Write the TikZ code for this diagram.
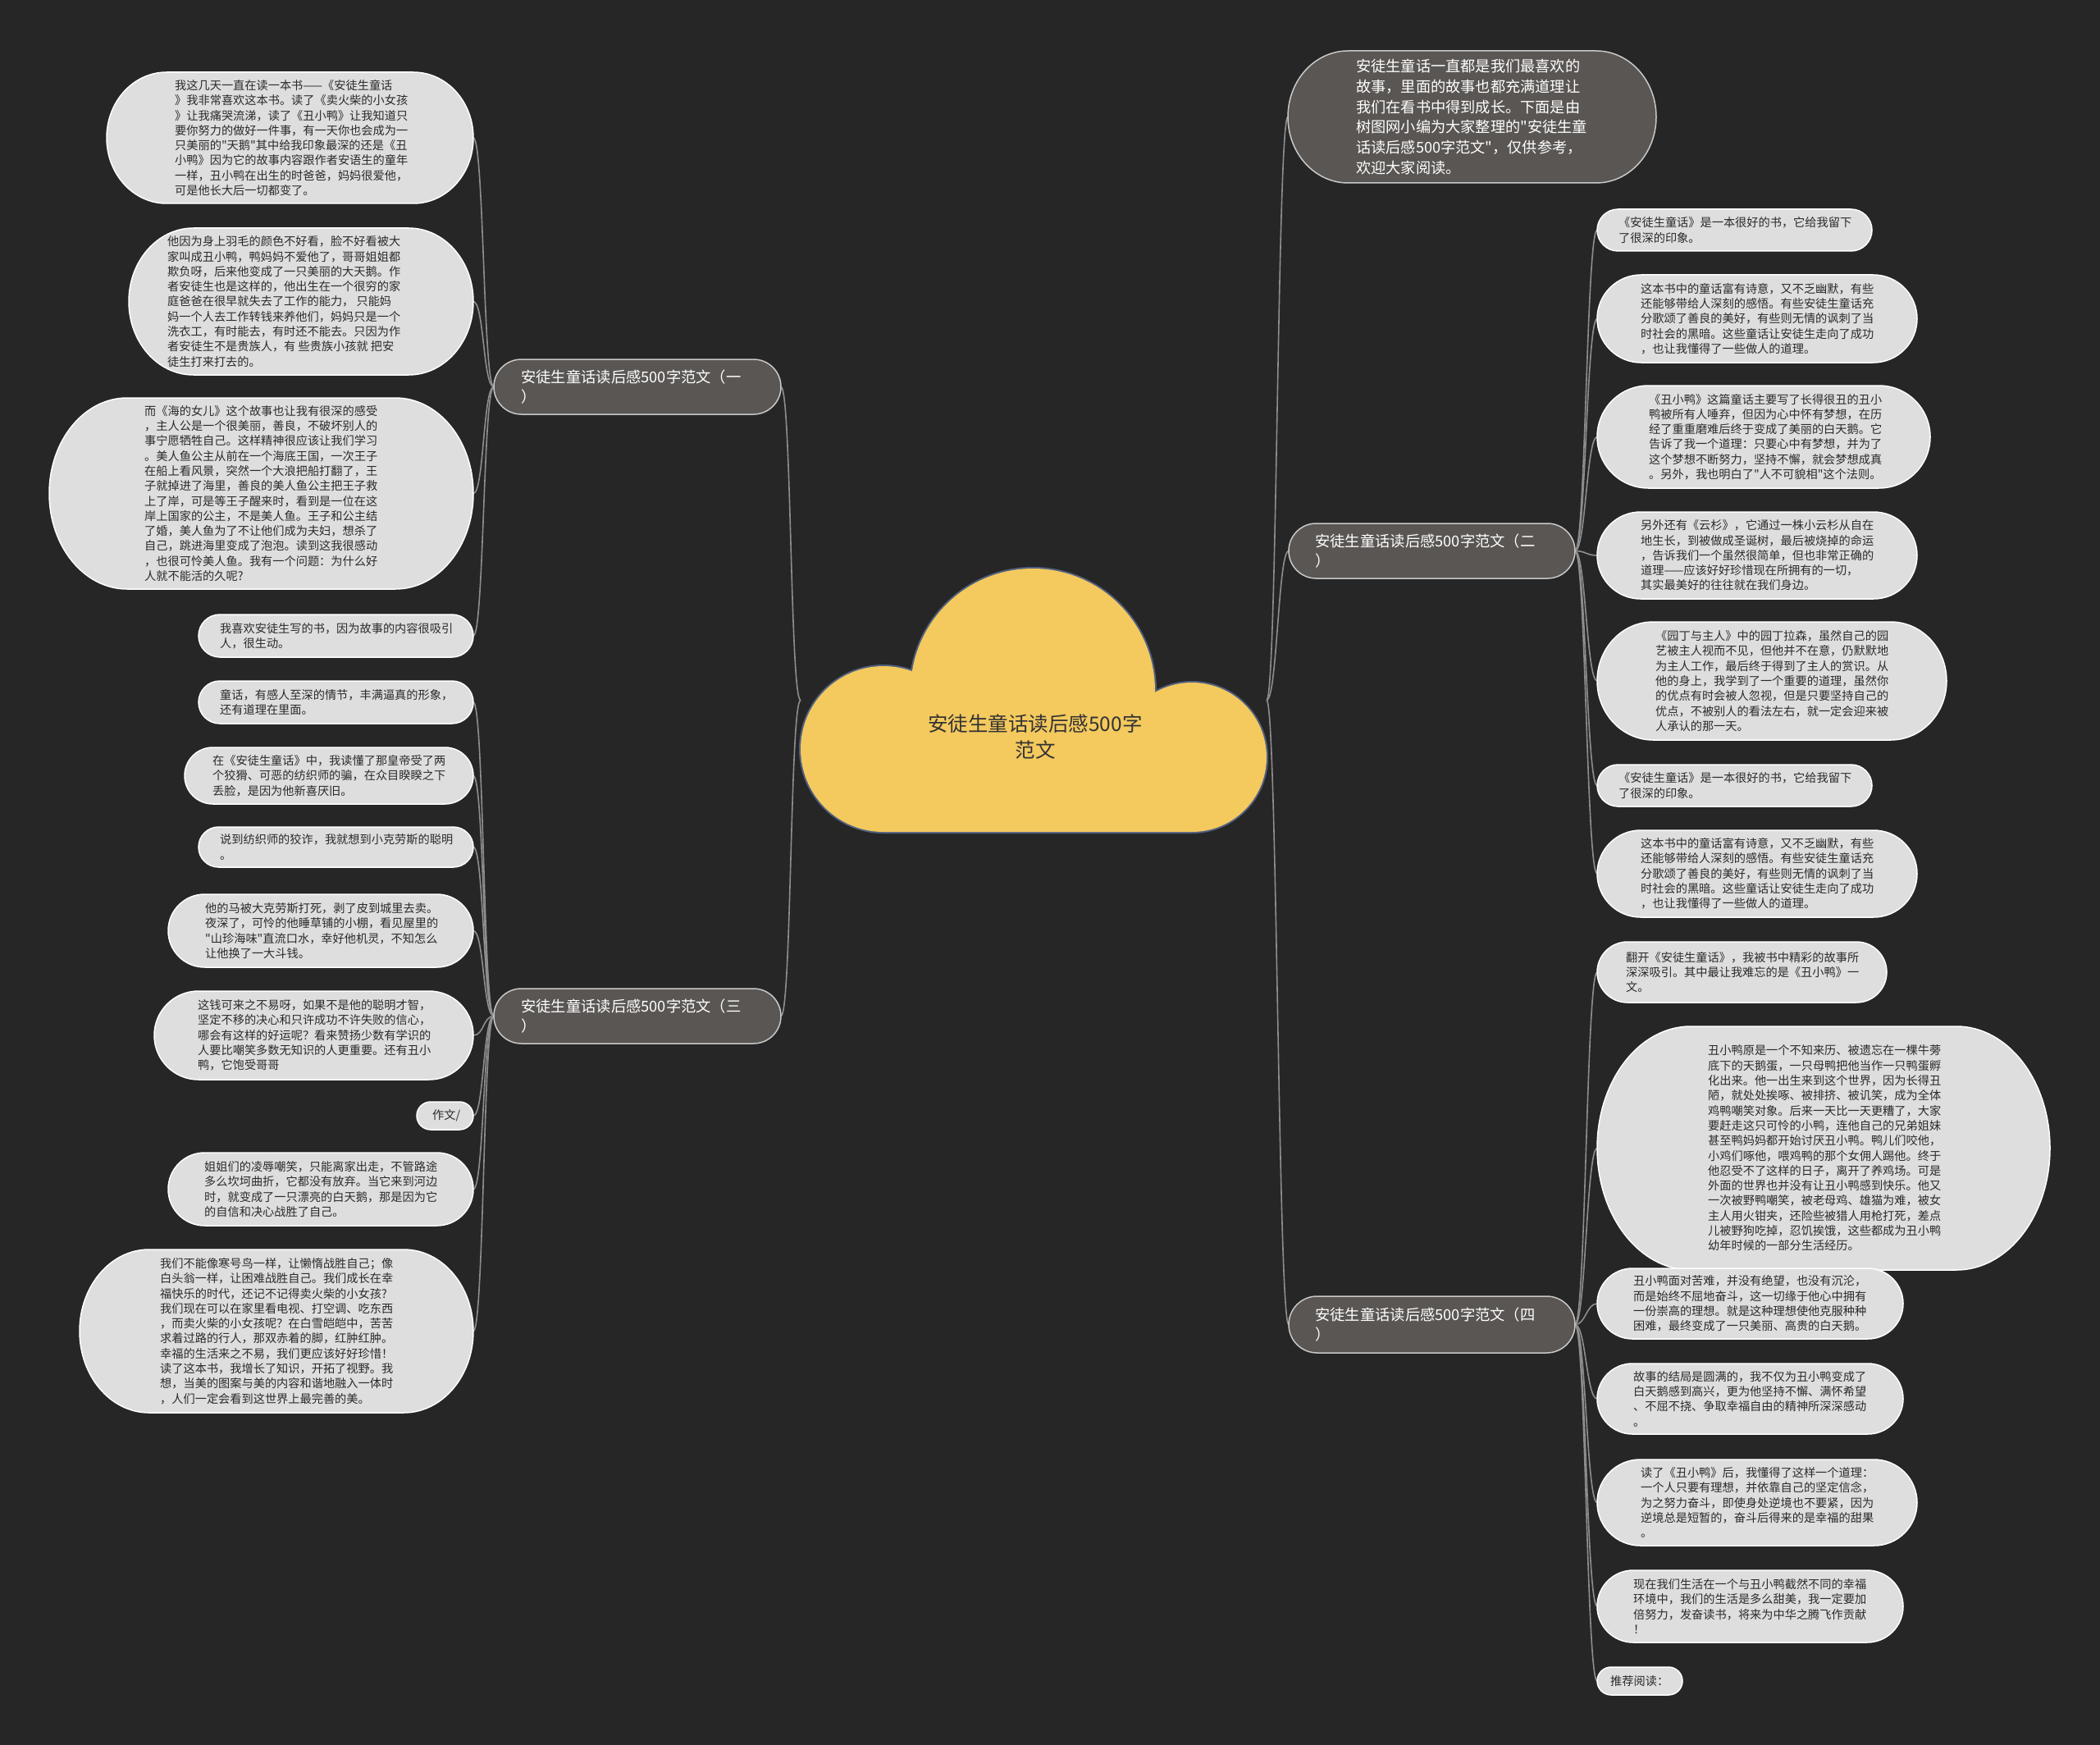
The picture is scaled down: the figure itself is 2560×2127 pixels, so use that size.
\documentclass[tikz,border=0pt]{standalone}
\usepackage{fontspec}
\newfontfamily\cjkf{Noto Sans CJK SC}
\definecolor{bgc}{HTML}{262626}
\definecolor{leaffill}{HTML}{DEDEDE}
\definecolor{leaftextc}{HTML}{2A2A2A}
\definecolor{brfill}{HTML}{5A5653}
\definecolor{brdraw}{HTML}{C8C8C8}
\definecolor{connc}{HTML}{8E8E8E}
\definecolor{cloudfill}{HTML}{F4C95E}
\definecolor{cloudline}{HTML}{50607F}
\definecolor{roottextc}{HTML}{333333}
\pgfdeclarelayer{bglayer}
\pgfsetlayers{bglayer,main}
\tikzset{
  boxnode/.style={rectangle,draw=none,inner sep=0pt,outer sep=0pt},
  leafline/.style={fill=leaffill,draw=white,line width=1.5pt},
  brline/.style={fill=brfill,draw=brdraw,line width=1.5pt},
  leaftext/.style={inner sep=0pt,align=left,text=leaftextc,font=\cjkf\fontsize{14.2}{18.3}\selectfont},
  brtext/.style={inner sep=0pt,align=left,text=white,font=\cjkf\fontsize{18.3}{24.5}\selectfont},
  introtext/.style={inner sep=0pt,align=left,text=white,font=\cjkf\fontsize{18.2}{24.7}\selectfont},
  roottext/.style={inner sep=0pt,align=center,text=roottextc,font=\cjkf\fontsize{24.5}{32.7}\selectfont},
  conn/.style={draw=connc,line width=1.6pt},
  lcurve/.style={to path={.. controls +(-13,0) and +(13,0) .. (\tikztotarget)}},
  rcurve/.style={to path={.. controls +(13,0) and +(-13,0) .. (\tikztotarget)}},
}
% #1 outline style, #2 text style, #3 name, #4 left, #5 top, #6 right, #7 bottom, #8 text left x, #9 text
\newcommand\mmnode[9]{%
  \pgfmathsetmacro\mmcx{(#4+#6)/2}%
  \pgfmathsetmacro\mmcy{(#5+#7)/2}%
  \pgfmathsetmacro\mmw{#6-#4}%
  \pgfmathsetmacro\mmh{#7-#5}%
  \pgfmathsetmacro\mmry{\mmh/2}%
  \pgfmathsetmacro\mmrx{min(\mmry,25+0.3*\mmh)}%
  \pgfmathsetmacro\mmxa{#4+\mmrx}%
  \pgfmathsetmacro\mmxb{#6-\mmrx}%
  \path[#1] (\mmxa,#5) -- (\mmxb,#5) arc[start angle=90,end angle=-90,x radius=\mmrx pt,y radius=\mmry pt] -- (\mmxa,#7) arc[start angle=270,end angle=90,x radius=\mmrx pt,y radius=\mmry pt] -- cycle;
  \node[boxnode,minimum width=\mmw pt,minimum height=\mmh pt] (#3) at (\mmcx,\mmcy) {};
  \node[#2,anchor=west] (#3-t) at (#8,\mmcy) {#9};
}
\begin{document}
\begin{tikzpicture}[x=1pt,y=-1pt]
\useasboundingbox (0,0) rectangle (2560,2127);
\begin{pgfonlayer}{bglayer}
\fill[bgc] (0,0) rectangle (2560,2127);
\end{pgfonlayer}

% central cloud
\draw[cloudline,line width=4pt] (1077,913) circle[radius=101pt] (1259,842) circle[radius=149pt] (1453,923) circle[radius=91pt] (1077,880) rectangle (1453,1014);
\fill[cloudfill] (1077,913) circle[radius=101pt] (1259,842) circle[radius=149pt] (1453,923) circle[radius=91pt] (1077,880) rectangle (1453,1014);
\node[boxnode,minimum width=568pt,minimum height=321pt] (root) at (1260,853.5) {};
\node[roottext] (root-t) at (1262,898) {安徒生童话读后感500字\\范文};

% branches
\mmnode{brline}{brtext}{br1}{602}{438}{952}{505}{635}{安徒生童话读后感500字范文（一\\）}
\mmnode{brline}{brtext}{br3}{602}{1205}{952}{1272}{635}{安徒生童话读后感500字范文（三\\）}
\mmnode{brline}{brtext}{br2}{1571}{638}{1920}{705}{1603}{安徒生童话读后感500字范文（二\\）}
\mmnode{brline}{brtext}{br4}{1571}{1580}{1920}{1649}{1603}{安徒生童话读后感500字范文（四\\）}
\mmnode{brline}{introtext}{intro}{1570}{62}{2019}{223}{1653}{安徒生童话一直都是我们最喜欢的\\故事，里面的故事也都充满道理让\\我们在看书中得到成长。下面是由\\树图网小编为大家整理的"安徒生童\\话读后感500字范文"，仅供参考，\\欢迎大家阅读。}

% left leaves
\mmnode{leafline}{leaftext}{L1}{130}{88}{577}{248}{213}{我这几天一直在读一本书——《安徒生童话\\》我非常喜欢这本书。读了《卖火柴的小女孩\\》让我痛哭流涕，读了《丑小鸭》让我知道只\\要你努力的做好一件事，有一天你也会成为一\\只美丽的"天鹅"其中给我印象最深的还是《丑\\小鸭》因为它的故事内容跟作者安语生的童年\\一样，丑小鸭在出生的时爸爸，妈妈很爱他，\\可是他长大后一切都变了。}
\mmnode{leafline}{leaftext}{L2}{157}{278}{577}{457}{204}{他因为身上羽毛的颜色不好看，脸不好看被大\\家叫成丑小鸭，鸭妈妈不爱他了，哥哥姐姐都\\欺负呀，后来他变成了一只美丽的大天鹅。作\\者安徒生也是这样的，他出生在一个很穷的家\\庭爸爸在很早就失去了工作的能力， 只能妈\\妈一个人去工作转钱来养他们，妈妈只是一个\\洗衣工，有时能去，有时还不能去。只因为作\\者安徒生不是贵族人，有 些贵族小孩就 把安\\徒生打来打去的。}
\mmnode{leafline}{leaftext}{L3}{60}{485}{577}{718}{176}{而《海的女儿》这个故事也让我有很深的感受\\，主人公是一个很美丽，善良，不破坏别人的\\事宁愿牺牲自己。这样精神很应该让我们学习\\。美人鱼公主从前在一个海底王国，一次王子\\在船上看风景，突然一个大浪把船打翻了，王\\子就掉进了海里，善良的美人鱼公主把王子救\\上了岸，可是等王子醒来时，看到是一位在这\\岸上国家的公主，不是美人鱼。王子和公主结\\了婚，美人鱼为了不让他们成为夫妇，想杀了\\自己，跳进海里变成了泡泡。读到这我很感动\\，也很可怜美人鱼。我有一个问题：为什么好\\人就不能活的久呢?}
\mmnode{leafline}{leaftext}{L4}{242}{749}{577}{801}{268}{我喜欢安徒生写的书，因为故事的内容很吸引\\人，很生动。}
\mmnode{leafline}{leaftext}{L5}{242}{830}{577}{882}{268}{童话，有感人至深的情节，丰满逼真的形象，\\还有道理在里面。}
\mmnode{leafline}{leaftext}{L6}{225}{911}{577}{980}{259}{在《安徒生童话》中，我读懂了那皇帝受了两\\个狡猾、可恶的纺织师的骗，在众目睽睽之下\\丢脸，是因为他新喜厌旧。}
\mmnode{leafline}{leaftext}{L7}{242}{1008}{577}{1057}{268}{说到纺织师的狡诈，我就想到小克劳斯的聪明\\。}
\mmnode{leafline}{leaftext}{L8}{205}{1090}{577}{1179}{250}{他的马被大克劳斯打死，剥了皮到城里去卖。\\夜深了，可怜的他睡草铺的小棚，看见屋里的\\"山珍海味"直流口水，幸好他机灵，不知怎么\\让他换了一大斗钱。}
\mmnode{leafline}{leaftext}{L9}{188}{1208}{577}{1316}{241}{这钱可来之不易呀，如果不是他的聪明才智，\\坚定不移的决心和只许成功不许失败的信心，\\哪会有这样的好运呢？看来赞扬少数有学识的\\人要比嘲笑多数无知识的人更重要。还有丑小\\鸭，它饱受哥哥}
\mmnode{leafline}{leaftext}{L10}{508}{1343}{577}{1377}{527}{作文/}
\mmnode{leafline}{leaftext}{L11}{205}{1405}{577}{1494}{249}{姐姐们的凌辱嘲笑，只能离家出走，不管路途\\多么坎坷曲折，它都没有放弃。当它来到河边\\时，就变成了一只漂亮的白天鹅，那是因为它\\的自信和决心战胜了自己。}
\mmnode{leafline}{leaftext}{L12}{97}{1523}{577}{1722}{195}{我们不能像寒号鸟一样，让懒惰战胜自己；像\\白头翁一样，让困难战胜自己。我们成长在幸\\福快乐的时代，还记不记得卖火柴的小女孩?\\我们现在可以在家里看电视、打空调、吃东西\\，而卖火柴的小女孩呢？在白雪皑皑中，苦苦\\求着过路的行人，那双赤着的脚，红肿红肿。\\幸福的生活来之不易，我们更应该好好珍惜！\\读了这本书，我增长了知识，开拓了视野。我\\想，当美的图案与美的内容和谐地融入一体时\\，人们一定会看到这世界上最完善的美。}

% right leaves
\mmnode{leafline}{leaftext}{R1}{1947}{255}{2282}{306}{1973}{《安徒生童话》是一本很好的书，它给我留下\\了很深的印象。}
\mmnode{leafline}{leaftext}{R2}{1947}{335}{2337}{442}{2000}{这本书中的童话富有诗意，又不乏幽默，有些\\还能够带给人深刻的感悟。有些安徒生童话充\\分歌颂了善良的美好，有些则无情的讽刺了当\\时社会的黑暗。这些童话让安徒生走向了成功\\，也让我懂得了一些做人的道理。}
\mmnode{leafline}{leaftext}{R3}{1947}{470}{2353}{595}{2010}{《丑小鸭》这篇童话主要写了长得很丑的丑小\\鸭被所有人唾弃，但因为心中怀有梦想，在历\\经了重重磨难后终于变成了美丽的白天鹅。它\\告诉了我一个道理：只要心中有梦想，并为了\\这个梦想不断努力，坚持不懈，就会梦想成真\\。另外，我也明白了"人不可貌相"这个法则。}
\mmnode{leafline}{leaftext}{R4}{1947}{624}{2337}{730}{2000}{另外还有《云杉》，它通过一株小云杉从自在\\地生长，到被做成圣诞树，最后被烧掉的命运\\，告诉我们一个虽然很简单，但也非常正确的\\道理——应该好好珍惜现在所拥有的一切，\\其实最美好的往往就在我们身边。}
\mmnode{leafline}{leaftext}{R5}{1947}{758}{2373}{902}{2018}{《园丁与主人》中的园丁拉森，虽然自己的园\\艺被主人视而不见，但他并不在意，仍默默地\\为主人工作，最后终于得到了主人的赏识。从\\他的身上，我学到了一个重要的道理，虽然你\\的优点有时会被人忽视，但是只要坚持自己的\\优点，不被别人的看法左右，就一定会迎来被\\人承认的那一天。}
\mmnode{leafline}{leaftext}{R6}{1947}{932}{2282}{983}{1973}{《安徒生童话》是一本很好的书，它给我留下\\了很深的印象。}
\mmnode{leafline}{leaftext}{R7}{1947}{1012}{2337}{1118}{2000}{这本书中的童话富有诗意，又不乏幽默，有些\\还能够带给人深刻的感悟。有些安徒生童话充\\分歌颂了善良的美好，有些则无情的讽刺了当\\时社会的黑暗。这些童话让安徒生走向了成功\\，也让我懂得了一些做人的道理。}
\mmnode{leafline}{leaftext}{R8}{1947}{1148}{2300}{1222}{1982}{翻开《安徒生童话》，我被书中精彩的故事所\\深深吸引。其中最让我难忘的是《丑小鸭》一\\文。}
\mmnode{leafline}{leaftext}{R9}{1947}{1251}{2499}{1548}{2082}{丑小鸭原是一个不知来历、被遗忘在一棵牛蒡\\底下的天鹅蛋，一只母鸭把他当作一只鸭蛋孵\\化出来。他一出生来到这个世界，因为长得丑\\陋，就处处挨啄、被排挤、被讥笑，成为全体\\鸡鸭嘲笑对象。后来一天比一天更糟了，大家\\要赶走这只可怜的小鸭，连他自己的兄弟姐妹\\甚至鸭妈妈都开始讨厌丑小鸭。鸭儿们咬他，\\小鸡们啄他，喂鸡鸭的那个女佣人踢他。终于\\他忍受不了这样的日子，离开了养鸡场。可是\\外面的世界也并没有让丑小鸭感到快乐。他又\\一次被野鸭嘲笑，被老母鸡、雄猫为难，被女\\主人用火钳夹，还险些被猎人用枪打死，差点\\儿被野狗吃掉，忍饥挨饿，这些都成为丑小鸭\\幼年时候的一部分生活经历。}
\mmnode{leafline}{leaftext}{R10}{1947}{1546}{2320}{1632}{1991}{丑小鸭面对苦难，并没有绝望，也没有沉沦，\\而是始终不屈地奋斗，这一切缘于他心中拥有\\一份崇高的理想。就是这种理想使他克服种种\\困难，最终变成了一只美丽、高贵的白天鹅。}
\mmnode{leafline}{leaftext}{R11}{1947}{1662}{2320}{1748}{1991}{故事的结局是圆满的，我不仅为丑小鸭变成了\\白天鹅感到高兴，更为他坚持不懈、满怀希望\\、不屈不挠、争取幸福自由的精神所深深感动\\。}
\mmnode{leafline}{leaftext}{R12}{1947}{1779}{2337}{1884}{2000}{读了《丑小鸭》后，我懂得了这样一个道理：\\一个人只要有理想，并依靠自己的坚定信念，\\为之努力奋斗，即使身处逆境也不要紧，因为\\逆境总是短暂的，奋斗后得来的是幸福的甜果\\。}
\mmnode{leafline}{leaftext}{R13}{1947}{1914}{2320}{2002}{1991}{现在我们生活在一个与丑小鸭截然不同的幸福\\环境中，我们的生活是多么甜美，我一定要加\\倍努力，发奋读书，将来为中华之腾飞作贡献\\！}
\mmnode{leafline}{leaftext}{R14}{1947}{2032}{2051}{2066}{1963}{推荐阅读：}

% connectors
\begin{pgfonlayer}{bglayer}
\draw[conn,lcurve] (root.west) to (br1.east);
\draw[conn,lcurve] (root.west) to (br3.east);
\draw[conn,rcurve] (root.east) to (intro.west);
\draw[conn,rcurve] (root.east) to (br2.west);
\draw[conn,rcurve] (root.east) to (br4.west);
\foreach \t in {L1,L2,L3,L4} \draw[conn,lcurve] (br1.west) to (\t.east);
\foreach \t in {L5,L6,L7,L8,L9,L10,L11,L12} \draw[conn,lcurve] (br3.west) to (\t.east);
\foreach \t in {R1,R2,R3,R4,R5,R6,R7} \draw[conn,rcurve] (br2.east) to (\t.west);
\foreach \t in {R8,R9,R10,R11,R12,R13,R14} \draw[conn,rcurve] (br4.east) to (\t.west);
\end{pgfonlayer}
\end{tikzpicture}
\end{document}
